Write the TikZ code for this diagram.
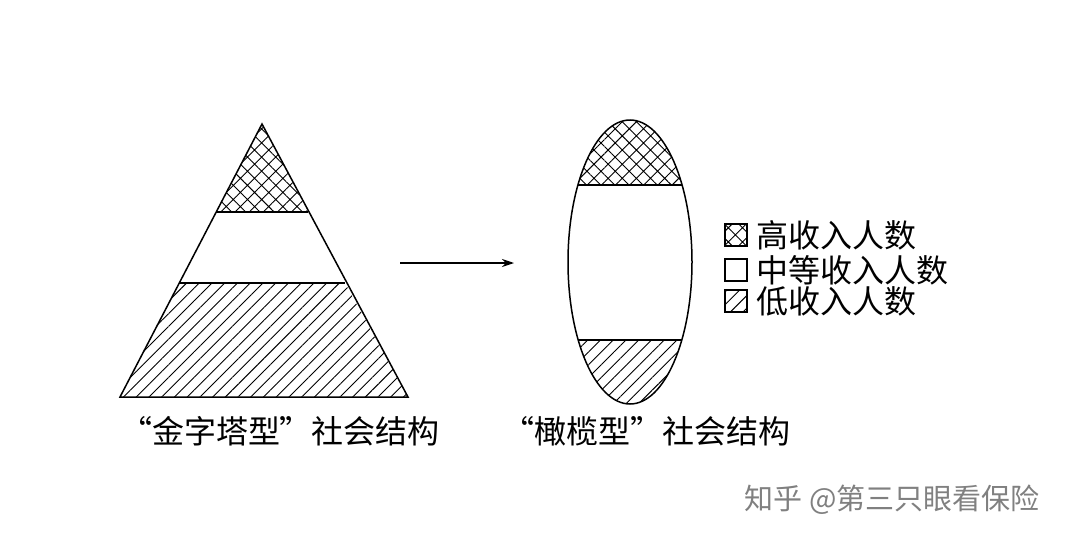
\documentclass[tikz,border=0pt]{standalone}
\usepackage{fontspec}
\newfontfamily\cjk{Noto Sans CJK SC}
\usetikzlibrary{patterns.meta,arrows.meta}
\tikzset{lbl/.style={font=\cjk\fontsize{32}{34}\selectfont},
legbox/.style={draw,line width=1.2pt,minimum width=22pt,minimum height=22pt,inner sep=0pt},
outline/.style={draw,line width=1.5pt},
xhatch/.style={pattern={Hatch[angle=45,distance=10pt,line width=0.9pt]}},
dhatch/.style={pattern={Lines[angle=45,distance=9pt,line width=0.9pt]}}}
\begin{document}
\begin{tikzpicture}[x=1pt,y=-1pt]
\useasboundingbox (0,0) rectangle (1080,546);
% triangle
\fill[xhatch] (262,124) -- (216,212) -- (308,212) -- cycle;
\fill[dhatch] (179,283) -- (345,283) -- (408,397) -- (120,397) -- cycle;
\draw[line width=1.2pt] (216,212) -- (308,212) (179,283) -- (345,283);
\draw[outline] (262,124) -- (408,397) -- (120,397) -- cycle;
% ellipse
\begin{scope}
\clip (630,262) ellipse [x radius=62, y radius=142];
\fill[xhatch] (560,110) rectangle (700,185);
\fill[dhatch] (560,340) rectangle (700,410);
\draw[line width=1.2pt] (560,185) -- (700,185) (560,340) -- (700,340);
\end{scope}
\draw[outline] (630,262) ellipse [x radius=62, y radius=142];
% arrow
\coordinate (a1) at (400,263); \coordinate (a2) at (514,263);
\draw[line width=1.2pt,-{Stealth[length=12pt,width=8pt]}] (a1) -- (a2);
% legend
\node[legbox,xhatch] (b1) at (736,235) {};
\node[legbox] (b2) at (736,270) {};
\node[legbox,dhatch] (b3) at (736,301) {};
\node[lbl,anchor=west] at (753,235) {高收入人数};
\node[lbl,anchor=west] at (753,270) {中等收入人数};
\node[lbl,anchor=west] at (753,301) {低收入人数};
% labels
\node[lbl] (t1) at (280,431) {“金字塔型”社会结构};
\node[lbl] (t2) at (646,431) {“橄榄型”社会结构};
\node[font=\cjk\fontsize{29}{31}\selectfont,text=black!50] (w) at (892,500) {知乎 @第三只眼看保险};
\end{tikzpicture}
\end{document}
